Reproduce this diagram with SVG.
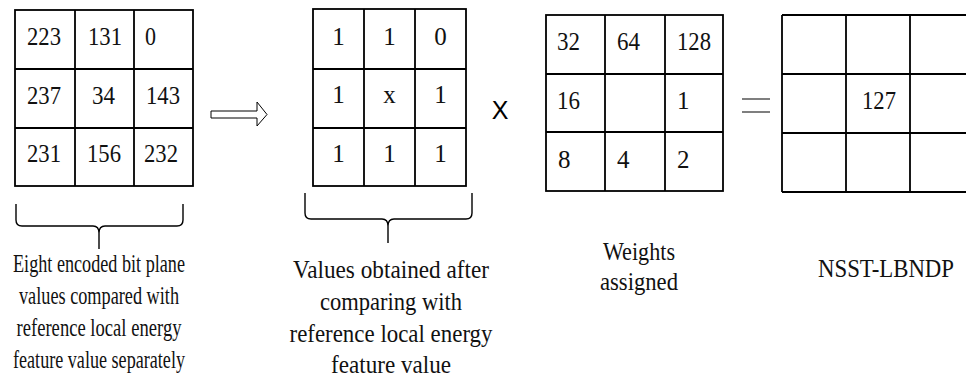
<svg xmlns="http://www.w3.org/2000/svg" width="966" height="381" viewBox="0 0 966 381">
<style>
.g{fill:none;stroke:#000;stroke-width:1.8}
.t{font-size:25px;fill:#111}
.m{text-anchor:middle}
.b{fill:none;stroke:#000;stroke-width:1.4}
</style>
<rect width="966" height="381" fill="#fff"/>
<g id="grid-input" font-family="Liberation Serif, Times New Roman, DejaVu Serif, serif">
<rect class="g" x="15" y="10" width="178" height="176"/>
<path class="g" d="M75,10V186M134,10V186M15,69H193M15,128H193"/>
<text class="t" x="27" y="45" textLength="34" lengthAdjust="spacingAndGlyphs">223</text>
<text class="t" x="88" y="45" textLength="34" lengthAdjust="spacingAndGlyphs">131</text>
<text class="t" x="145" y="45" textLength="11" lengthAdjust="spacingAndGlyphs">0</text>
<text class="t" x="27" y="104" textLength="34" lengthAdjust="spacingAndGlyphs">237</text>
<text class="t" x="92" y="104" textLength="23" lengthAdjust="spacingAndGlyphs">34</text>
<text class="t" x="146" y="104" textLength="34" lengthAdjust="spacingAndGlyphs">143</text>
<text class="t" x="27" y="162" textLength="34" lengthAdjust="spacingAndGlyphs">231</text>
<text class="t" x="87" y="162" textLength="34" lengthAdjust="spacingAndGlyphs">156</text>
<text class="t" x="144" y="162" textLength="34" lengthAdjust="spacingAndGlyphs">232</text>
</g>
<g id="grid-binary" font-family="Liberation Serif, Times New Roman, DejaVu Serif, serif">
<rect class="g" x="313" y="9" width="153" height="177"/>
<path class="g" d="M364,9V186M415,9V186M313,69H466M313,128H466"/>
<text class="t m" x="338.5" y="45">1</text>
<text class="t m" x="389.5" y="45">1</text>
<text class="t m" x="440.5" y="45">0</text>
<text class="t m" x="338.5" y="103">1</text>
<text class="t m" x="389.5" y="103">x</text>
<text class="t m" x="440.5" y="103">1</text>
<text class="t m" x="338.5" y="162">1</text>
<text class="t m" x="389.5" y="162">1</text>
<text class="t m" x="440.5" y="162">1</text>
</g>
<g id="grid-weights" font-family="Liberation Serif, Times New Roman, DejaVu Serif, serif">
<rect class="g" x="546" y="15" width="177" height="176"/>
<path class="g" d="M605,15V191M665,15V191M546,74H723M546,132H723"/>
<text class="t" x="557" y="50" textLength="23" lengthAdjust="spacingAndGlyphs">32</text>
<text class="t" x="617" y="50" textLength="23" lengthAdjust="spacingAndGlyphs">64</text>
<text class="t" x="677" y="50" textLength="34" lengthAdjust="spacingAndGlyphs">128</text>
<text class="t" x="557" y="109" textLength="23" lengthAdjust="spacingAndGlyphs">16</text>
<text class="t" x="677" y="109">1</text>
<text class="t" x="558" y="168">8</text>
<text class="t" x="617" y="168">4</text>
<text class="t" x="677" y="168">2</text>
</g>
<g id="grid-result" font-family="Liberation Serif, Times New Roman, DejaVu Serif, serif">
<path class="g" d="M782,15V192M846,15V192M910,15V192M782,15H966M782,74H966M782,133H966M782,192H966"/>
<text class="t" x="862" y="109" textLength="34" lengthAdjust="spacingAndGlyphs">127</text>
</g>
<g id="operators">
<polygon points="211,111 257,111 257,102 267,114.5 257,126 257,118 211,118" fill="#fff" stroke="#000" stroke-width="1"/>
<text x="500" y="119" text-anchor="middle" font-family="Liberation Sans, Arial, sans-serif" font-size="25" fill="#000">X</text>
<path d="M742,99H770M742,112H770" stroke="#000" stroke-width="1.2"/>
</g>
<g id="connectors">
<path class="b" d="M16,204V220Q16,226 22,226H93Q99,226 99,233V249M183,204V220Q183,226 177,226H105Q99,226 99,233"/>
<path class="b" d="M305,193V213Q305,219 311,219H382Q388,219 388,226V243M472,193V213Q472,219 466,219H394Q388,219 388,226"/>
</g>
<g id="labels" font-family="Liberation Serif, Times New Roman, DejaVu Serif, serif">
<text class="t m" x="99" y="272" textLength="172" lengthAdjust="spacingAndGlyphs">Eight encoded bit plane</text>
<text class="t m" x="99" y="304" textLength="160" lengthAdjust="spacingAndGlyphs">values compared with</text>
<text class="t m" x="99" y="336" textLength="165" lengthAdjust="spacingAndGlyphs">reference local energy</text>
<text class="t m" x="99" y="368" textLength="172" lengthAdjust="spacingAndGlyphs">feature value separately</text>
<text class="t m" x="391" y="278" textLength="196" lengthAdjust="spacingAndGlyphs">Values obtained after</text>
<text class="t m" x="391" y="310" textLength="142" lengthAdjust="spacingAndGlyphs">comparing with</text>
<text class="t m" x="391" y="342" textLength="203" lengthAdjust="spacingAndGlyphs">reference local energy</text>
<text class="t m" x="391" y="373" textLength="120" lengthAdjust="spacingAndGlyphs">feature value</text>
<text class="t m" x="639" y="260" textLength="72" lengthAdjust="spacingAndGlyphs">Weights</text>
<text class="t m" x="639" y="290" textLength="78" lengthAdjust="spacingAndGlyphs">assigned</text>
<text class="t m" x="886" y="277" textLength="136" lengthAdjust="spacingAndGlyphs">NSST-LBNDP</text>
</g>
</svg>
